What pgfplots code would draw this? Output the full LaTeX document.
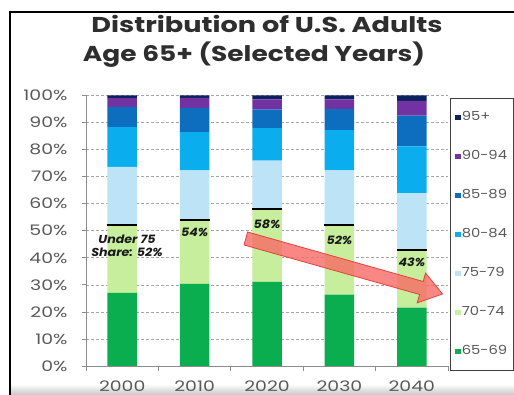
\documentclass[border=0pt]{standalone}
\usepackage{pgfplots}
\pgfplotsset{compat=1.18}
\usepackage{fontspec}
\setmainfont{Poppins}
\definecolor{cA}{HTML}{0BAE4F}
\definecolor{cB}{HTML}{C6EE9C}
\definecolor{cC}{HTML}{BDE3F7}
\definecolor{cD}{HTML}{0AAEEF}
\definecolor{cE}{HTML}{0D6DBF}
\definecolor{cF}{HTML}{7332A2}
\definecolor{cG}{HTML}{0B2160}
\definecolor{txt}{HTML}{595959}
\definecolor{ttl}{HTML}{2E2E2E}
\definecolor{arrf}{HTML}{F86A66}
\definecolor{arrd}{HTML}{E2382F}
\begin{document}
\begin{tikzpicture}[x=1pt,y=1pt]
\useasboundingbox (0,0) rectangle (514,395);
\fill[white] (0,0) rectangle (514,395);
\shade[top color=white, bottom color=black!22] (10,0) rectangle (514,11);
\draw[line width=1.6pt] (9.7,0) -- (9.7,383) -- (514,383);
\node[anchor=base, text=ttl, inner sep=0pt] at (267,362) {\resizebox{351pt}{\height}{\fontsize{21.5}{26}\selectfont\bfseries Distribution of U.S. Adults}};
\node[anchor=base, text=ttl, inner sep=0pt] at (254,333.5) {\resizebox{342pt}{\height}{\fontsize{21.5}{26}\selectfont\bfseries Age 65+ (Selected Years)}};
\begin{axis}[
  at={(86pt,29pt)}, anchor=south west,
  scale only axis, width=362pt, height=270.5pt,
  ybar stacked, bar width=29.5pt,
  xmin=-0.5, xmax=4.5, ymin=0, ymax=100, enlargelimits=false,
  axis x line*=bottom, axis y line*=left,
  axis line style={draw=black!45, line width=0.7pt, -},
  xtick={0,1,2,3,4}, xticklabels={\scalebox{1.3}[1]{2000},\scalebox{1.3}[1]{2010},\scalebox{1.3}[1]{2020},\scalebox{1.3}[1]{2030},\scalebox{1.3}[1]{2040}},
  minor xtick={-0.5,0.5,1.5,2.5,3.5,4.5},
  major x tick style={draw=none},
  minor x tick style={draw=black!45, line width=0.7pt},
  minor tick length=5pt,
  ytick={0,10,...,100},
  yticklabel={\scalebox{1.3}[1]{\pgfmathprintnumber{\tick}\%}},
  y tick style={draw=black!45, line width=0.7pt},
  major tick length=4pt, tick align=outside,
  ymajorgrids, major grid style={densely dashed, black!35, line width=0.6pt},
  /pgf/number format/assume math mode=true,
  tick label style={text=txt, font=\fontsize{14.5}{16}\selectfont},
  yticklabel style={xshift=-11pt},
  xticklabel style={yshift=-7pt},
  legend style={at={(1.0055,0.9908)}, anchor=north west, draw=black!75, line width=0.8pt,
     font=\fontsize{12.5}{14}\selectfont, text=txt, row sep=27pt, inner xsep=5pt, inner ysep=13pt,
     nodes={text height=9pt, text depth=3pt, inner xsep=1.2pt, inner ysep=0pt}},
  legend cell align=left,
  legend image code/.code={\fill[#1,draw=none] (0pt,-2.6pt) rectangle (5.2pt,2.6pt);},
  reverse legend,
]
\addplot[fill=cA, draw=none] coordinates {(0,27.0) (1,30.4) (2,31.1) (3,26.4) (4,21.6)};
\addplot[fill=cB, draw=none] coordinates {(0,25.2) (1,23.6) (2,27.1) (3,25.8) (4,21.2)};
\addplot[fill=cC, draw=none] coordinates {(0,21.4) (1,18.3) (2,17.7) (3,20.1) (4,21.1)};
\addplot[fill=cD, draw=none] coordinates {(0,14.7) (1,14.2) (2,12.0) (3,14.9) (4,17.3)};
\addplot[fill=cE, draw=none] coordinates {(0,7.5) (1,8.9) (2,7.0) (3,7.8) (4,11.4)};
\addplot[fill=cF, draw=none] coordinates {(0,3.2) (1,3.7) (2,3.7) (3,3.6) (4,5.4)};
\addplot[fill=cG, draw=none] coordinates {(0,1.0) (1,0.9) (2,1.4) (3,1.4) (4,2.0)};
\legend{\scalebox{1.18}[1]{65-69},\scalebox{1.18}[1]{70-74},\scalebox{1.18}[1]{75-79},\scalebox{1.18}[1]{80-84},\scalebox{1.18}[1]{85-89},\scalebox{1.18}[1]{90-94},\scalebox{1.18}[1]{95+}}
\end{axis}
\begin{axis}[
  at={(86pt,29pt)}, anchor=south west,
  scale only axis, width=362pt, height=270.5pt,
  xmin=-0.5, xmax=4.5, ymin=0, ymax=100, enlargelimits=false,
  hide axis, clip=false,
]
\addplot[only marks, mark=-, mark size=15pt, mark options={line width=1.9pt, draw=black}]
  coordinates {(0,52.2) (1,54.0) (2,58.2) (3,52.2) (4,42.8)};
\fill[arrf, fill opacity=0.8, draw=arrd, draw opacity=0.9, line width=0.8pt]
  (axis cs:1.732,49.54) -- (axis cs:4.157,31.24) -- (axis cs:4.190,34.34) -- (axis cs:4.425,26.62)
  -- (axis cs:4.074,23.33) -- (axis cs:4.108,26.43) -- (axis cs:1.683,44.73) -- cycle;
\begin{scope}[every node/.style={font=\fontsize{11.5}{13}\selectfont\bfseries\itshape, text=black!90, inner sep=0pt}]
\node[align=center] at (axis cs:0.066,44.5) {\scalebox{1.1}[1]{Under 75}\\[0pt]\scalebox{1.1}[1]{Share: 52\%}};
\node at (axis cs:1,49.5) {\scalebox{1.1}[1]{54\%}};
\node at (axis cs:2,52.5) {\scalebox{1.1}[1]{58\%}};
\node at (axis cs:3,46.6) {\scalebox{1.1}[1]{52\%}};
\node at (axis cs:4,38.4) {\scalebox{1.1}[1]{43\%}};
\end{scope}
\end{axis}
\end{tikzpicture}
\end{document}
